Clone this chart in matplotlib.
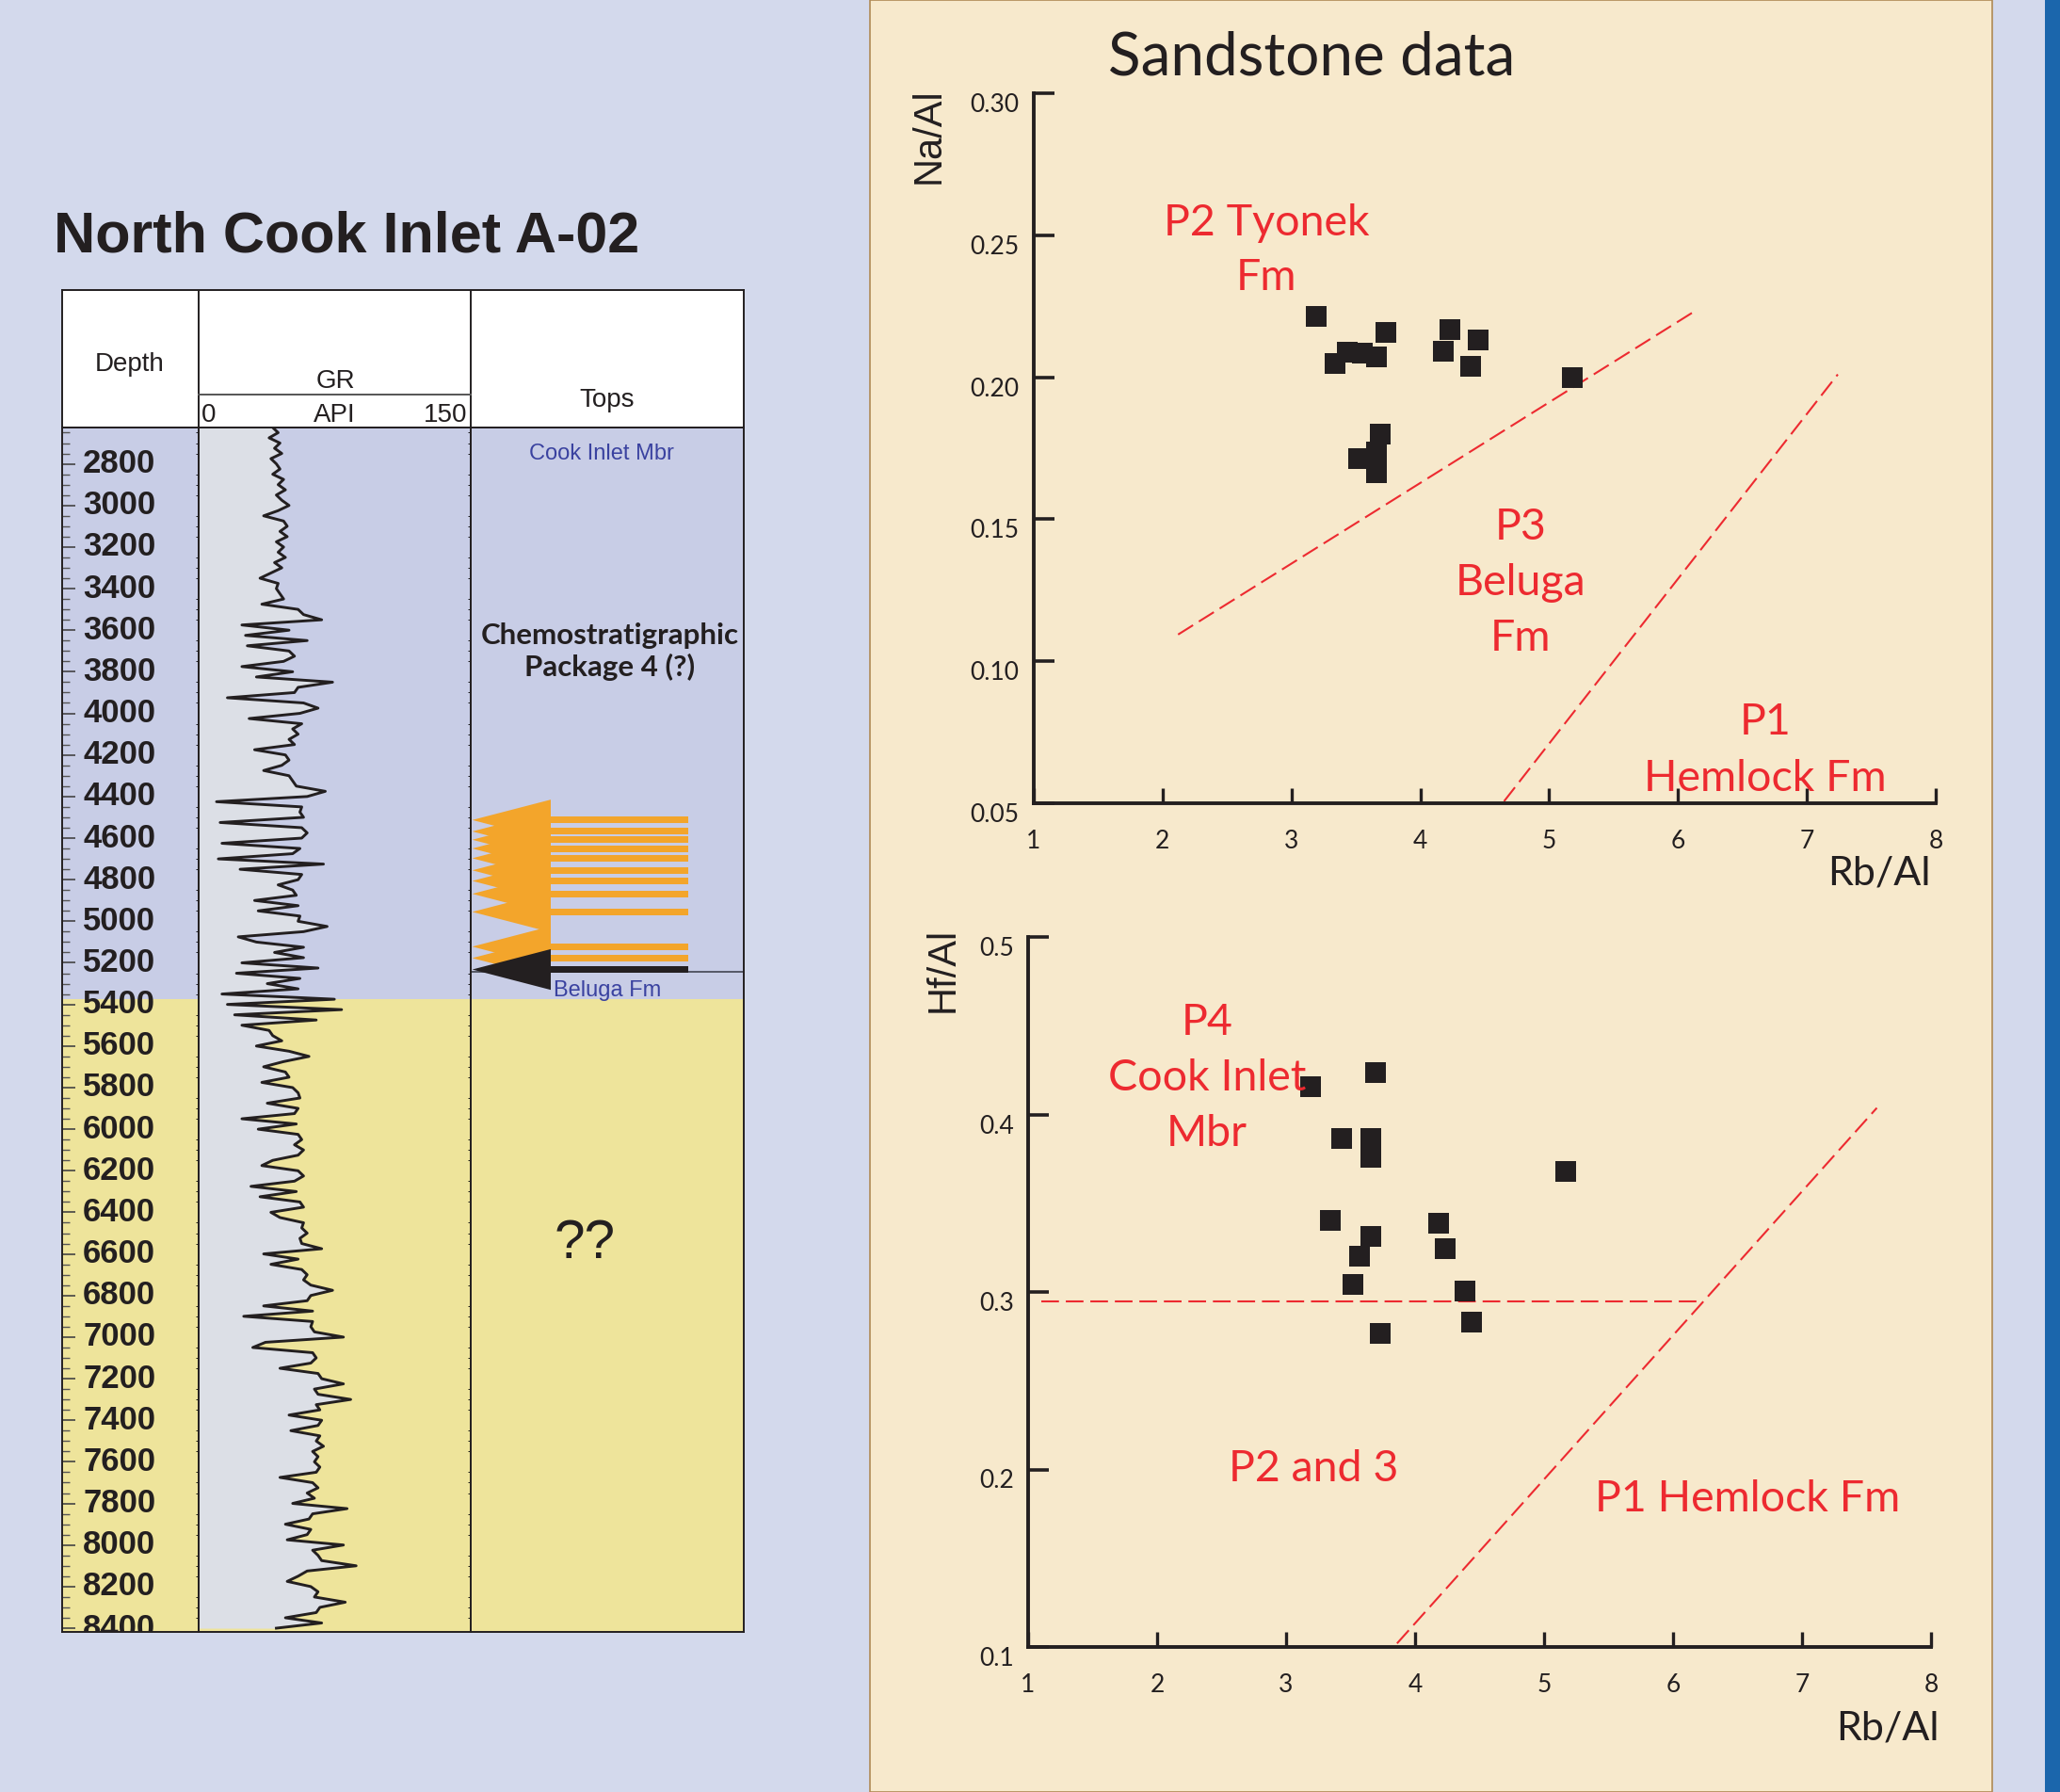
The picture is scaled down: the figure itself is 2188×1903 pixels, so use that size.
import numpy as np
import matplotlib
matplotlib.use("Agg")
import matplotlib.pyplot as plt
from matplotlib.patches import Rectangle, Polygon

W, H = 2188, 1903

# ---- well log data ----
gr_top, gr_step = 2625, 25
gr_api = [41, 44, 39,
          45, 42, 46, 40,  43, 45, 41, 47,  44, 48, 43, 46,  50, 44, 36, 47,
          49, 45, 49, 43,  47, 44, 48, 42,  46, 40, 34, 44,  43, 45, 47, 35,
          55, 58, 68, 24,  50, 26, 60, 27,  50, 53, 47, 24,  52, 32, 74, 55,
          53, 16, 58, 66,  56, 28, 57, 52,  55, 50, 53, 31,  48, 50, 46, 36,
          50, 52, 54, 70,  60, 10, 57, 56,  58, 12, 57, 60,  57, 13, 56, 52,
          11, 69, 23, 57,  55, 44, 52, 54,  31, 55, 33, 56,  55, 71, 58, 22,
          32, 58, 42, 58,  24, 66, 21, 56,  38, 55, 13, 75,  16, 79, 20, 65,
          24, 39, 41, 46,  32, 50, 61, 47,  36, 48, 50, 35,  52, 55, 56, 38,
          55, 53, 24, 54,  33, 55, 57, 53,  58, 55, 41, 35,  55, 58, 53, 29,
          54, 34, 56, 58,  40, 45, 58, 57,  60, 56, 57, 68,  36, 55, 40, 57,
          60, 58, 62, 74,  62, 60, 36, 63,  25, 63, 62, 64,  80, 37, 30, 63,
          65, 62, 45, 66,  68, 80, 64, 66,  84, 65, 67, 50,  68, 66, 51, 67,
          65, 69, 63, 66,  64, 67, 65, 45,  63, 66, 60, 64,  52, 82, 63, 61,
          48, 62, 60, 49,  80, 63, 66, 68,  87, 60, 55, 49,  62, 66, 64, 81,
          67, 65, 48, 68,
          43]
gr_depth = gr_top + gr_step * np.arange(len(gr_api))
depth_labels = np.arange(2800, 8401, 200)
log_top, log_base = 2623, 8418
package_base = 5375
orange_tops = [4513, 4568, 4608, 4650, 4697, 4755, 4806, 4868, 4955, 5122, 5177]
beluga_top = 5232
beluga_line = 5245

# ---- sandstone geochemistry ----
na_rb = [3.19, 3.34, 3.43, 3.55, 3.66, 3.73, 4.18, 4.23, 4.39, 4.45, 5.18, 3.69, 3.52, 3.66, 3.66]
na_al = [0.2215, 0.2048, 0.2087, 0.2085, 0.2071, 0.2159, 0.2090, 0.2168, 0.2038, 0.2131,
         0.1999, 0.1801, 0.1714, 0.1737, 0.1665]
hf_rb = [3.19, 3.69, 3.43, 3.66, 3.66, 5.17, 3.34, 3.66, 3.57, 3.52, 4.18, 4.23, 4.39, 4.44, 3.73]
hf_al = [0.4154, 0.4234, 0.3867, 0.3867, 0.3760, 0.3681, 0.3403, 0.3315, 0.3203, 0.3041,
         0.3385, 0.3244, 0.3003, 0.2828, 0.2764]
na_line1 = ([2.12, 6.11], [0.1094, 0.2227])
na_line2 = ([4.65, 7.24], [0.0507, 0.2010])
hf_hline = ([1.10, 6.23], [0.2946, 0.2946])
hf_line = ([3.86, 7.58], [0.102, 0.4037])

lav = "#D3D9EC"
beige = "#F7E9CC"
logblue = "#C8CDE6"
yellow = "#EEE49B"
grey = "#DCDFE6"
orange = "#F3A52B"
ink = "#231F20"
red = "#ED2A30"
topblue = "#3A42A0"

plt.rcParams['font.family'] = ['Lato', 'DejaVu Sans']
ARIAL = ['Liberation Sans', 'DejaVu Sans']


def box(x0, y0, x1, y1):
    return [x0 / W, 1 - y1 / H, (x1 - x0) / W, (y1 - y0) / H]


def ftext(x, y, s, **kw):
    fig.text(x / W, 1 - y / H, s, **kw)


fig = plt.figure(figsize=(W / 100, H / 100), dpi=100)
fig.patch.set_facecolor(lav)

# right panel background
fig.patches.append(Rectangle((924 / W, 0), (2116 - 924) / W, 1, transform=fig.transFigure,
                             facecolor=beige, edgecolor="#B08A55", lw=1.2, zorder=-2))
fig.patches.append(Rectangle((2172 / W, 0), 16 / W, 1, transform=fig.transFigure,
                             facecolor="#1B66AC", lw=0, zorder=-2))

# ---------------- well log ----------------
ftext(57, 252, "North Cook Inlet A-02", family=ARIAL, fontsize=44, fontweight='bold',
      color=ink, ha='left', va='center')

xd0, xg0, xt0, xt1 = 65.6, 210.7, 499.6, 790
yh0, yb0, yb1 = 308, 453.5, 1733

hd = fig.add_axes(box(xd0, yh0, xt1, yb0))
hd.set_xlim(xd0, xt1)
hd.set_ylim(yb0, yh0)
hd.set_facecolor("white")
hd.set_xticks([]); hd.set_yticks([])
for s in hd.spines.values():
    s.set_linewidth(1.4); s.set_color(ink)
hd.axvline(xg0, color=ink, lw=1.4)
hd.axvline(xt0, color=ink, lw=1.4)
hd.plot([xg0, xt0], [418.6, 418.6], color="#555", lw=1.4)
hd.text(138, 387, "Depth", family=ARIAL, fontsize=20, ha='center', va='center', color=ink)
hd.text(356, 405, "GR", family=ARIAL, fontsize=20, ha='center', va='center', color=ink)
hd.text(214, 441, "0", family=ARIAL, fontsize=20, ha='left', va='center', color=ink)
hd.text(355, 441, "API", family=ARIAL, fontsize=20, ha='center', va='center', color=ink)
hd.text(496, 441, "150", family=ARIAL, fontsize=20, ha='right', va='center', color=ink)
hd.text(645, 425, "Tops", family=ARIAL, fontsize=20, ha='center', va='center', color=ink)

ax_d = fig.add_axes(box(xd0, yb0, xg0, yb1))
ax_g = fig.add_axes(box(xg0, yb0, xt0, yb1), sharey=ax_d)
ax_t = fig.add_axes(box(xt0, yb0, xt1, yb1), sharey=ax_d)
ax_d.set_ylim(log_base, log_top)
for a in (ax_d, ax_g, ax_t):
    a.axhspan(log_top, package_base, color=logblue, lw=0, zorder=0)
    a.axhspan(package_base, log_base, color=yellow, lw=0, zorder=0)
    for s in a.spines.values():
        s.set_linewidth(1.4); s.set_color(ink); s.set_zorder(5)

# depth track
ax_d.set_xlim(0, 1)
ax_d.set_xticks([])
ax_d.set_yticks(depth_labels)
ax_d.set_yticks(np.arange(2650, 8401, 50), minor=True)
ax_d.tick_params(axis='y', which='major', direction='in', length=10, width=1.2,
                 color="#444", labelleft=False)
ax_d.tick_params(axis='y', which='minor', direction='in', length=5.5, width=1.0, color="#555")
for d in depth_labels:
    ax_d.text(0.155, d, str(d), family=ARIAL, fontsize=25, fontweight='bold', color=ink,
              ha='left', va='center', clip_on=True)

# GR track
ax_g.set_xlim(0, 150)
ax_g.set_xticks([])
ax_g.tick_params(axis='y', left=False, labelleft=False)
ax_g.fill_betweenx(gr_depth, 0, gr_api, color=grey, lw=0, zorder=1)
ax_g.plot(gr_api, gr_depth, color=ink, lw=2.1, zorder=3)

# tops track
ax_t.set_xlim(0, 1)
ax_t.set_xticks([])
ax_t.tick_params(axis='y', left=False, labelleft=False)
half, bar = 98, 16
x_apex, x_edge, x_end = 0.007, 0.294, 0.796
for d in orange_tops:
    ax_t.add_patch(Polygon([[x_apex, d], [x_edge, d - half], [x_edge, d + half]],
                           closed=True, facecolor=orange, lw=0, zorder=2))
    ax_t.add_patch(Rectangle((x_edge, d - bar), x_end - x_edge, 2 * bar,
                             facecolor=orange, lw=0, zorder=2))
ax_t.plot([0, 1], [beluga_line, beluga_line], color="#555866", lw=1.4, zorder=2)
ax_t.add_patch(Polygon([[x_apex, beluga_top], [x_edge, beluga_top - half], [x_edge, beluga_top + half]],
                       closed=True, facecolor=ink, lw=0, zorder=3))
ax_t.add_patch(Rectangle((x_edge, beluga_top - bar), x_end - x_edge, 2 * bar,
                         facecolor=ink, lw=0, zorder=3))
ax_t.text(0.48, 2750, "Cook Inlet Mbr", family=ARIAL, fontsize=17, color=topblue,
          ha='center', va='center')
ax_t.text(0.51, 3705, "Chemostratigraphic\nPackage 4 (?)", fontsize=22.5, fontweight='bold',
          color=ink, ha='center', va='center', linespacing=1.2)
ax_t.text(0.502, 5333, "Beluga Fm", family=ARIAL, fontsize=17, color=topblue,
          ha='center', va='center', zorder=4)
ax_t.text(0.42, 6553, "??", family=ARIAL, fontsize=42, color=ink, ha='center', va='center')

# ---------------- scatter plots ----------------
ftext(1393, 62, "Sandstone data", fontsize=46, color=ink, ha='center', va='center')


def style(ax, yticks, ylabels):
    ax.set_facecolor("none")
    for s in ("top", "right"):
        ax.spines[s].set_visible(False)
    for s in ("left", "bottom"):
        ax.spines[s].set_linewidth(2.8); ax.spines[s].set_color(ink)
    ax.set_xticks(range(1, 9))
    ax.set_yticks(yticks)
    ax.set_yticklabels(ylabels)
    ax.tick_params(axis='x', direction='in', length=11.5, width=2.4, color=ink,
                   labelsize=19, labelcolor=ink, pad=20)
    ax.tick_params(axis='y', direction='in', length=16, width=2.6, color=ink,
                   labelsize=19, labelcolor=ink, pad=11)
    for t in ax.get_yticklabels():
        t.set_va('top')
        t.set_y(t.get_position()[1])


ax1 = fig.add_axes(box(1098, 99, 2056, 853))
ax1.set_xlim(1, 8)
ax1.set_ylim(0.05, 0.30)
style(ax1, [0.05, 0.10, 0.15, 0.20, 0.25, 0.30], ["0.05", "0.10", "0.15", "0.20", "0.25", "0.30"])
ax1.plot(*na_line1, color=red, lw=1.5, dashes=(9, 3.5))
ax1.plot(*na_line2, color=red, lw=1.5, dashes=(9, 3.5))
ax1.plot(na_rb, na_al, 's', ms=16.5, color=ink, mew=0, clip_on=False)

ax2 = fig.add_axes(box(1092, 995, 2051, 1749))
ax2.set_xlim(1, 8)
ax2.set_ylim(0.1, 0.5)
style(ax2, [0.1, 0.2, 0.3, 0.4, 0.5], ["0.1", "0.2", "0.3", "0.4", "0.5"])
ax2.plot(*hf_hline, color=red, lw=1.5, dashes=(9, 3.5))
ax2.plot(*hf_line, color=red, lw=1.5, dashes=(9, 3.5))
ax2.plot(hf_rb, hf_al, 's', ms=16.5, color=ink, mew=0, clip_on=False)

ftext(987, 144, "Na/Al", family=ARIAL, fontsize=30, color=ink, rotation=90, ha='center', va='center')
ftext(1002, 1030, "Hf/Al", family=ARIAL, fontsize=30, color=ink, rotation=90, ha='center', va='center')
ftext(2051, 927, "Rb/Al", fontsize=31, color=ink, ha='right', va='center')
ftext(2060, 1835, "Rb/Al", fontsize=31, color=ink, ha='right', va='center')

lab = dict(fontsize=33.5, color=red, ha='center', va='center', linespacing=1.5)
ftext(1345, 266, "P2 Tyonek\nFm", **lab)
ftext(1615, 619, "P3\nBeluga\nFm", **lab)
ftext(1875, 797, "P1\nHemlock Fm", **lab)
ftext(1282, 1145, "P4\nCook Inlet\nMbr", **lab)
ftext(1395, 1560, "P2 and 3", **lab)
ftext(1856, 1592, "P1 Hemlock Fm", **lab)

fig.savefig("out.png", dpi=100, facecolor=fig.get_facecolor())
